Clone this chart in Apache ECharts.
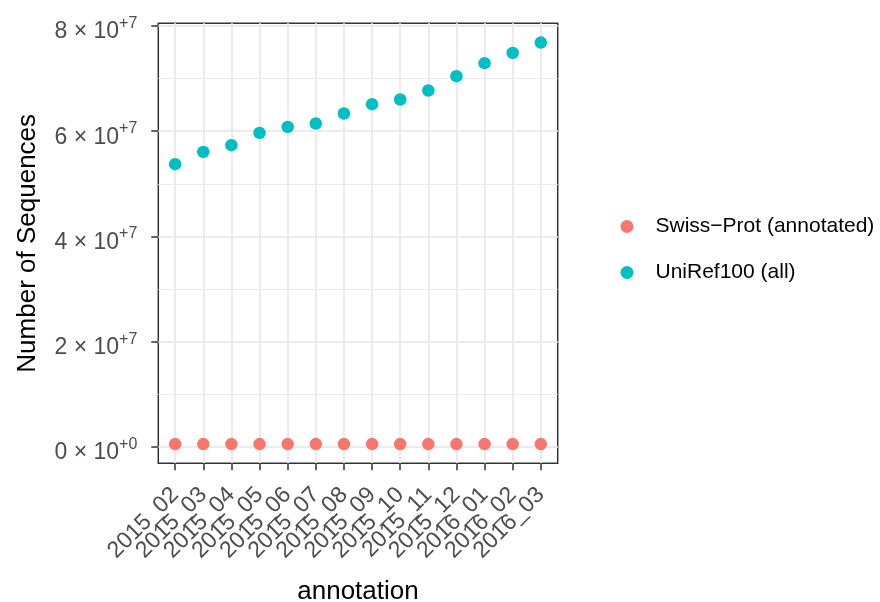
<!DOCTYPE html>
<html>
<head>
<meta charset="utf-8">
<script src="https://cdn.jsdelivr.net/npm/echarts@6/dist/echarts.min.js"></script>
<style>html,body{margin:0;padding:0;background:#fff;}#c{width:880px;height:602px;}</style>
</head>
<body>
<div id="c"></div>
<script>
const categories = ["2015_02","2015_03","2015_04","2015_05","2015_06","2015_07","2015_08","2015_09","2015_10","2015_11","2015_12","2016_01","2016_02","2016_03"];
const swissProt = [547357, 547964, 548208, 548454, 548872, 549008, 549215, 549646, 549832, 550116, 550299, 550552, 550740, 551193];
const uniRef100 = [53740000, 56070000, 57350000, 59680000, 60820000, 61460000, 63370000, 65130000, 66020000, 67730000, 70450000, 72920000, 74870000, 76840000];
const yTicks = [0, 20000000, 40000000, 60000000, 80000000];
const yMinorTicks = [10000000, 30000000, 50000000, 70000000];
const seriesNames = ["Swiss\u2212Prot (annotated)", "UniRef100 (all)"];

const FONT = "'Liberation Sans', Arial, Helvetica, sans-serif";
const chart = echarts.init(document.getElementById('c'), null, {renderer: 'canvas'});

function sciLabel(v) {
  if (v === 0) return '{m|0 × 10}{s|+0}';
  const e = Math.floor(Math.log10(Math.abs(v)) + 1e-9);
  const m = Math.round(v / Math.pow(10, e));
  return '{m|' + m + ' × 10}{s|+' + e + '}';
}

const idx = categories.map((c, i) => i);
const idxEven = idx.filter(i => i % 2 === 0);
const idxOdd = idx.filter(i => i % 2 === 1);
const yMin = -3100000, yMax = 80500000;

const xLabelStyle = {
  rotate: 45, margin: 28, fontSize: 23, color: '#4D4D4D', fontFamily: FONT,
  showMinLabel: true, showMaxLabel: true, hideOverlap: false,
  formatter: v => categories[Math.round(v)]
};

chart.setOption({
  animation: false,
  backgroundColor: '#ffffff',
  textStyle: {fontFamily: FONT},
  grid: {left: 158.3, top: 23.3, width: 399.4, height: 440, show: true, borderColor: '#333333', borderWidth: 1.5, backgroundColor: 'transparent', containLabel: false, outerBoundsMode: 'none'},
  legend: {
    orient: 'vertical', left: 615.5, top: 211,
    itemWidth: 13, itemHeight: 13, itemGap: 25,
    icon: 'circle',
    textStyle: {fontSize: 21, color: '#000000', fontFamily: FONT, padding: [0, 0, 0, 17]},
    data: seriesNames
  },
  xAxis: [{
    type: 'value', min: -0.6, max: 13.6, position: 'bottom',
    name: 'annotation', nameLocation: 'middle', nameGap: 116, nameMoveOverlap: false,
    nameTextStyle: {fontSize: 26, color: '#000000', fontFamily: FONT},
    axisLine: {show: false, onZero: false},
    axisTick: {show: true, length: 7, customValues: idx, lineStyle: {color: '#333333', width: 1.5}},
    axisLabel: Object.assign({customValues: idxEven}, xLabelStyle),
    splitLine: {show: true, lineStyle: {color: '#EBEBEB', width: 2}}
  }, {
    type: 'value', min: -0.6, max: 13.6, position: 'bottom',
    axisLine: {show: false, onZero: false},
    axisTick: {show: false, customValues: idxOdd},
    axisLabel: Object.assign({customValues: idxOdd}, xLabelStyle),
    splitLine: {show: false}
  }],
  yAxis: [{
    type: 'value', min: yMin, max: yMax, position: 'left',
    name: 'Number of Sequences', nameLocation: 'middle', nameGap: 117, nameRotate: 90, nameMoveOverlap: false,
    nameTextStyle: {fontSize: 26, color: '#000000', fontFamily: FONT},
    axisLine: {show: false, onZero: false},
    axisTick: {show: true, length: 7, customValues: yTicks, lineStyle: {color: '#333333', width: 1.5}},
    axisLabel: {
      customValues: yTicks, margin: 21, color: '#4D4D4D', fontFamily: FONT,
      showMinLabel: true, showMaxLabel: true,
      formatter: sciLabel,
      rich: {
        m: {fontSize: 23, color: '#4D4D4D', fontFamily: FONT, padding: [12, 0, 0, 0]},
        s: {fontSize: 16, color: '#4D4D4D', fontFamily: FONT, padding: [0, 0, 5, 0]}
      }
    },
    splitLine: {show: true, lineStyle: {color: '#EBEBEB', width: 2}}
  }, {
    type: 'value', min: yMin, max: yMax, position: 'left',
    axisLine: {show: false, onZero: false},
    axisTick: {show: false, customValues: yMinorTicks},
    axisLabel: {show: false, customValues: yMinorTicks},
    splitLine: {show: true, lineStyle: {color: '#EBEBEB', width: 1}}
  }],
  series: [{
    name: seriesNames[0], type: 'scatter', symbolSize: 12.5,
    itemStyle: {color: '#F8766D', opacity: 1},
    data: swissProt.map((v, i) => [i, v]), z: 5
  }, {
    name: seriesNames[1], type: 'scatter', symbolSize: 12.5,
    itemStyle: {color: '#00BFC4', opacity: 1},
    data: uniRef100.map((v, i) => [i, v]), z: 5
  }]
});
</script>
</body>
</html>
